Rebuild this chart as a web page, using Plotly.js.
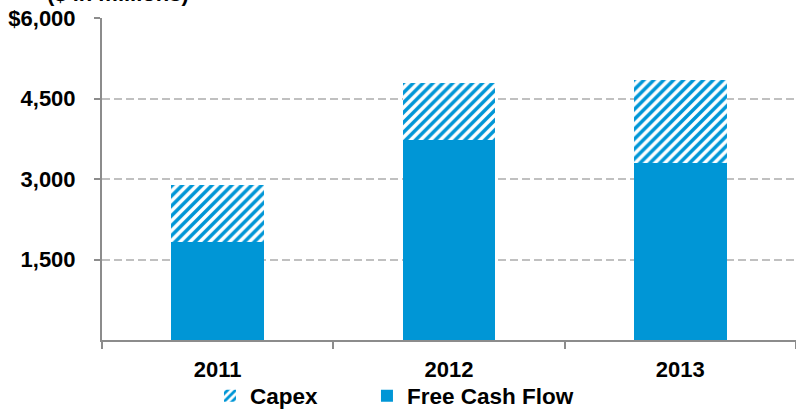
<!DOCTYPE html>
<html>
<head>
<meta charset="utf-8">
<script src="https://cdn.plot.ly/plotly-3.0.1.min.js"></script>
<style>html,body{margin:0;padding:0;background:#fff;}#chart{width:796px;height:410px;}</style>
</head>
<body>
<div id="chart"></div>
<script>
var years = ['2011', '2012', '2013'];
var freeCashFlow = [1830, 3735, 3300];
var capex = [1060, 1060, 1540];
var yTickVals = [1500, 3000, 4500, 6000];
var yTickText = ['1,500', '3,000', '4,500', '$6,000'];

var BLUE = '#0096d6';
var FONT = 'Liberation Sans, Arial, sans-serif';

var traces = [
  {
    type: 'bar', name: 'Free Cash Flow', x: years, y: freeCashFlow,
    marker: {color: BLUE, line: {width: 0}},
    width: 0.4, hoverinfo: 'none', legend: 'legend2'
  },
  {
    type: 'bar', name: 'Capex', x: years, y: capex,
    marker: {color: BLUE, line: {width: 0},
      pattern: {shape: '/', fgcolor: BLUE, bgcolor: '#ffffff', size: 7, solidity: 0.5}},
    width: 0.4, hoverinfo: 'none', legend: 'legend'
  }
];

var tickFont = {family: FONT, size: 22, color: '#000', weight: 'bold'};
var legendFont = {family: FONT, size: 22.5, color: '#000', weight: 'bold'};

var layout = {
  width: 796, height: 410,
  margin: {l: 102, r: 0, t: 18, b: 70},
  paper_bgcolor: '#ffffff', plot_bgcolor: '#ffffff',
  barmode: 'stack',
  showlegend: true,
  font: {family: FONT, size: 22, color: '#000'},
  xaxis: {
    type: 'category',
    showline: true, linecolor: '#8c8c8c', linewidth: 2,
    ticks: 'outside', tickson: 'boundaries', ticklen: 7, tickcolor: '#8c8c8c', tickwidth: 2,
    tickfont: tickFont,
    ticklabelstandoff: 9,
    showgrid: false, zeroline: false, fixedrange: true
  },
  yaxis: {
    range: [0, 6000],
    tickvals: yTickVals, ticktext: yTickText,
    showline: true, linecolor: '#8c8c8c', linewidth: 2,
    ticks: 'outside', ticklen: 6, tickcolor: '#8c8c8c', tickwidth: 2,
    tickfont: tickFont,
    ticklabelstandoff: 14,
    showgrid: true, gridcolor: '#c0c0c0', gridwidth: 2, griddash: '8px,4px',
    zeroline: false, fixedrange: true
  },
  legend: {
    orientation: 'h',
    xref: 'paper', x: 0.1556, xanchor: 'left',
    yref: 'container', y: 0.034, yanchor: 'middle',
    font: legendFont, bgcolor: 'rgba(0,0,0,0)',
    itemclick: false, itemdoubleclick: false
  },
  legend2: {
    orientation: 'h',
    xref: 'paper', x: 0.3818, xanchor: 'left',
    yref: 'container', y: 0.034, yanchor: 'middle',
    font: legendFont, bgcolor: 'rgba(0,0,0,0)',
    itemclick: false, itemdoubleclick: false
  },
  annotations: [{
    text: '<b>($ in millions)</b>',
    xref: 'paper', yref: 'paper',
    x: -0.082, xanchor: 'left',
    y: 1.031, yanchor: 'bottom',
    showarrow: false,
    font: {family: FONT, size: 22, color: '#000'}
  }]
};

Plotly.newPlot('chart', traces, layout, {displayModeBar: false, staticPlot: true});
</script>
</body>
</html>
